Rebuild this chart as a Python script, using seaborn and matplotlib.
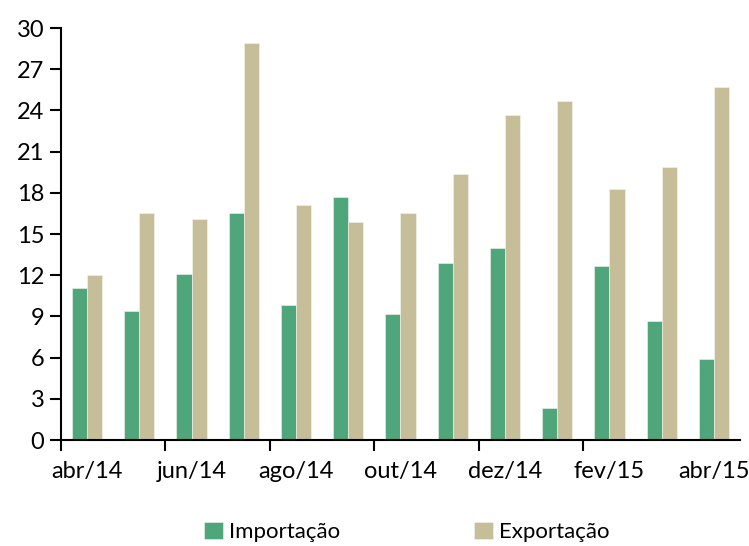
import matplotlib
matplotlib.use("Agg")
import matplotlib.pyplot as plt
import pandas as pd
import seaborn as sns

months = ["abr/14", "mai/14", "jun/14", "jul/14", "ago/14", "set/14", "out/14",
          "nov/14", "dez/14", "jan/15", "fev/15", "mar/15", "abr/15"]
importacao = [11.1, 9.4, 12.1, 16.5, 9.8, 17.7, 9.2, 12.9, 14.0, 2.3, 12.7, 8.7, 5.9]
exportacao = [12.0, 16.5, 16.1, 28.9, 17.1, 15.9, 16.5, 19.4, 23.7, 24.7, 18.3, 19.9, 25.7]
series = ["Importação", "Exportação"]
colors = ["#4FA67A", "#C5BE98"]

df = pd.DataFrame({"mes": months * 2,
                   "valor": importacao + exportacao,
                   "serie": [series[0]] * len(months) + [series[1]] * len(months)})

sns.set_style("white")
plt.rcParams["font.family"] = ["Lato", "DejaVu Sans"]
plt.rcParams["text.color"] = "black"
plt.rcParams["xtick.color"] = "black"
plt.rcParams["ytick.color"] = "black"

fig = plt.figure(figsize=(7.49, 5.46), dpi=100)
ax = fig.add_axes([0.0814, 0.194, 0.9066, 0.7547])

sns.barplot(data=df, x="mes", y="valor", hue="serie", order=months, hue_order=series,
            palette=colors, saturation=1, width=0.58, edgecolor="#f4f4ee", linewidth=0.4,
            ax=ax, legend=True)

ax.set_xlim(-0.5, len(months) - 0.5)
ax.set_ylim(0, 30)
ax.set_yticks(range(0, 31, 3))
ax.tick_params(axis="y", labelsize=17, length=8, width=1.5, pad=4, direction="out", left=True)

# tick marks between categories, labels on every other month
ax.set_xticks([i - 0.5 for i in range(0, len(months) - 1, 2)])
ax.set_xticklabels([])
ax.set_xticks(list(range(0, len(months), 2)), minor=True)
ax.set_xticklabels(months[::2], minor=True)
ax.tick_params(axis="x", which="major", length=8, width=1.5, direction="out", bottom=True)
ax.tick_params(axis="x", which="minor", length=0, labelsize=17, pad=15, bottom=True)

ax.set_xlabel("")
ax.set_ylabel("")
sns.despine(ax=ax)
for s in ["left", "bottom"]:
    ax.spines[s].set_color("black")
    ax.spines[s].set_linewidth(1.5)

handles, labels = ax.get_legend_handles_labels()
ax.get_legend().remove()
fig.legend(handles, labels, loc="center", bbox_to_anchor=(0.543, 0.026), ncol=2,
           frameon=False, fontsize=16, handlelength=0.85, handleheight=0.85,
           handletextpad=0.3, columnspacing=6.0)

fig.savefig("out.png", dpi=100)
